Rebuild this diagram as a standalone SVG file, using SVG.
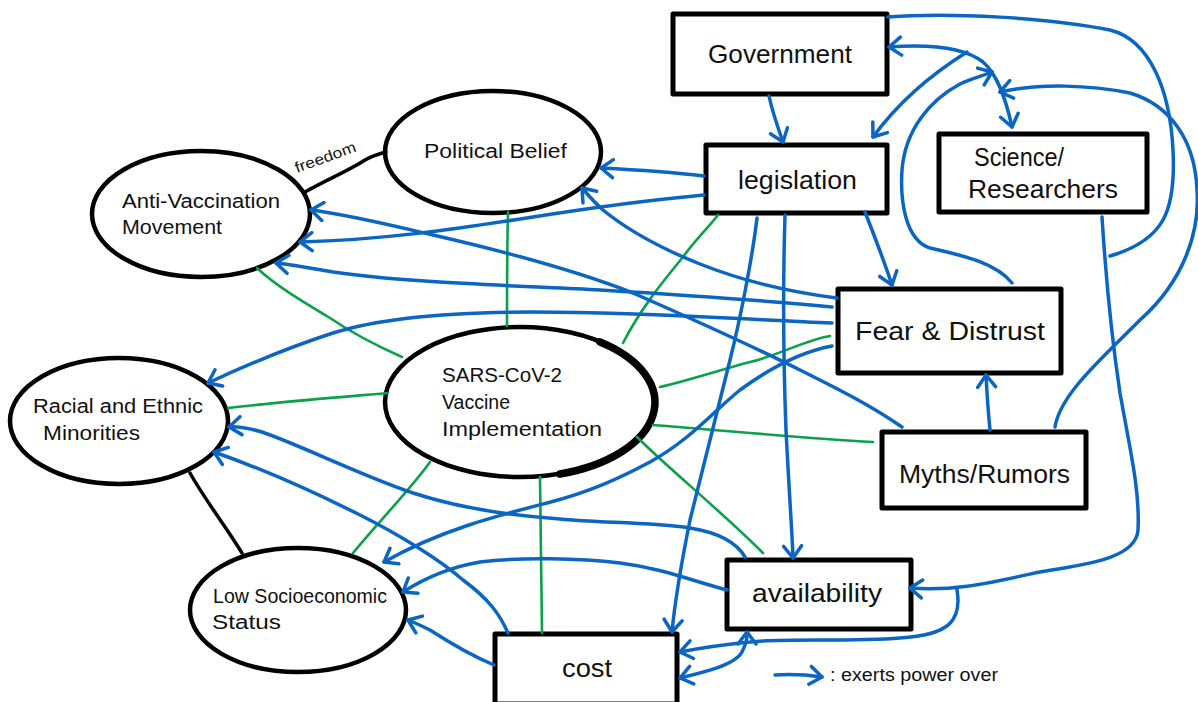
<svg xmlns="http://www.w3.org/2000/svg" width="1198" height="702" viewBox="0 0 1198 702">
<style>
.box{fill:#fff;stroke:#000;stroke-width:5;stroke-linejoin:round}
.ell{fill:#fff;stroke:#000;stroke-width:4.5}
.t{font-family:"Liberation Sans",Arial,sans-serif;fill:#111}
.tb{font-size:25px}
.te{font-size:20px}
.b{fill:none;stroke:#0a66c2;stroke-width:3.5;stroke-linecap:round;stroke-linejoin:round}
.a{marker-end:url(#arr)}
.aa{marker-start:url(#arr);marker-end:url(#arr)}
.g{fill:none;stroke:#0aa14b;stroke-width:2.6;stroke-linecap:round}
.k{fill:none;stroke:#000;stroke-width:3.5;stroke-linecap:round}
</style>
<defs>
<marker id="arr" viewBox="-2 -11 17 22" refX="12" refY="0" markerWidth="17" markerHeight="22" markerUnits="userSpaceOnUse" orient="auto-start-reverse">
<path d="M0,-9 L12,0 L0,9" fill="none" stroke="#0a66c2" stroke-width="3.5" stroke-linecap="round" stroke-linejoin="round"/>
</marker>
</defs>
<rect width="1198" height="702" fill="#fff"/>

<g id="government"><rect class="box" x="673" y="14" width="214" height="80"/><text class="t" x="708" y="63" font-size="26" textLength="144" lengthAdjust="spacingAndGlyphs">Government</text></g>
<g id="legislation"><rect class="box" x="706" y="145" width="181" height="68"/><text class="t" x="738" y="189" font-size="26" textLength="119" lengthAdjust="spacingAndGlyphs">legislation</text></g>
<g id="science"><rect class="box" x="939" y="134" width="208" height="78"/><text class="t tb" x="974" y="166" textLength="90" lengthAdjust="spacingAndGlyphs">Science/</text><text class="t tb" x="968" y="198" textLength="150" lengthAdjust="spacingAndGlyphs">Researchers</text></g>
<g id="fear"><rect class="box" x="838" y="289" width="223" height="84"/><text class="t" x="855" y="340" font-size="26" textLength="190" lengthAdjust="spacingAndGlyphs">Fear &amp; Distrust</text></g>
<g id="myths"><rect class="box" x="882" y="432" width="204" height="76"/><text class="t" x="899" y="483" font-size="26" textLength="171" lengthAdjust="spacingAndGlyphs">Myths/Rumors</text></g>
<g id="availability"><rect class="box" x="727" y="560" width="184" height="69"/><text class="t" x="752" y="602" font-size="26" textLength="130" lengthAdjust="spacingAndGlyphs">availability</text></g>
<g id="cost"><rect class="box" x="495" y="634" width="182" height="70"/><text class="t" x="562" y="677" font-size="26" textLength="50" lengthAdjust="spacingAndGlyphs">cost</text></g>

<g id="political-belief"><ellipse class="ell" cx="493" cy="152" rx="108" ry="61"/><text class="t te" x="424" y="158" textLength="143" lengthAdjust="spacingAndGlyphs">Political Belief</text></g>
<g id="anti-vax"><ellipse class="ell" cx="201" cy="214" rx="109" ry="63"/><text class="t te" x="122" y="208" textLength="158" lengthAdjust="spacingAndGlyphs">Anti-Vaccination</text><text class="t te" x="122" y="234" textLength="100" lengthAdjust="spacingAndGlyphs">Movement</text></g>
<g id="sars"><ellipse class="ell" cx="520" cy="402" rx="135" ry="75" stroke-width="5.5"/><path d="M600,342 A135,75 0 0 1 560,474" fill="none" stroke="#000" stroke-width="7.5" stroke-linecap="round"/><text class="t te" x="442" y="382" textLength="120" lengthAdjust="spacingAndGlyphs">SARS-CoV-2</text><text class="t te" x="442" y="409" textLength="68" lengthAdjust="spacingAndGlyphs">Vaccine</text><text class="t te" x="442" y="436" textLength="160" lengthAdjust="spacingAndGlyphs">Implementation</text></g>
<g id="racial"><ellipse class="ell" cx="119" cy="421" rx="109" ry="63"/><text class="t te" x="33" y="413" textLength="170" lengthAdjust="spacingAndGlyphs">Racial and Ethnic</text><text class="t te" x="43" y="440" textLength="97" lengthAdjust="spacingAndGlyphs">Minorities</text></g>
<g id="low-ses"><ellipse class="ell" cx="298" cy="610" rx="108" ry="62"/><text class="t te" x="213" y="603" textLength="174" lengthAdjust="spacingAndGlyphs">Low Socioeconomic</text><text class="t te" x="212" y="629" textLength="69" lengthAdjust="spacingAndGlyphs">Status</text></g>

<g id="connectors">
<path class="k" d="M305,192 C330,178 350,170 365,160 C372,156 378,154 386,152"/>
<text class="t" x="297" y="173" font-size="15" transform="rotate(-20 297 173)" textLength="64" lengthAdjust="spacingAndGlyphs">freedom</text>
<path class="k" d="M190,473 C205,500 225,525 242,553"/>

<path class="g" d="M508,212 C507,250 507,290 507,326"/>
<path class="g" d="M257,268 C275,285 300,300 330,318 C355,335 375,345 402,357"/>
<path class="g" d="M228,408 C280,402 330,398 388,393"/>
<path class="g" d="M623,343 C640,310 660,285 683,257 C695,240 708,228 718,215"/>
<path class="g" d="M660,387 C690,380 720,370 750,362 C780,355 805,340 830,336"/>
<path class="g" d="M653,425 C720,430 800,438 873,442"/>
<path class="g" d="M637,437 C670,470 720,510 763,553"/>
<path class="g" d="M540,477 C541,530 541,580 542,633"/>
<path class="g" d="M430,462 C410,490 380,520 353,553"/>

<path class="b a" d="M769,96 C772,110 778,128 783,142"/>
<path class="b aa" d="M889,47 C930,44 965,48 983,62 C998,75 1006,100 1012,127"/>
<path class="b a" d="M967,52 C935,72 900,100 873,137"/>
<path class="b a" d="M1012,283 C995,262 960,255 930,248 C905,240 900,200 902,170 C905,130 930,100 960,84 C970,79 982,76 992,72"/>
<path class="b a" d="M1055,427 C1060,395 1100,360 1140,320 C1185,280 1200,230 1197,190 C1195,140 1170,105 1130,93 C1090,85 1040,83 1000,92"/>
<path class="b" d="M888,17 C950,12 1050,18 1110,30 C1150,40 1170,90 1173,150 C1176,210 1165,240 1110,256"/>
<path class="b a" d="M1102,217 C1106,280 1112,340 1120,393 C1130,450 1140,490 1138,530 C1136,560 1080,565 1040,572 C1000,580 960,592 910,588"/>
<path class="b a" d="M957,590 C962,620 950,635 900,638 C850,642 780,638 750,642 C720,645 700,648 680,652"/>
<path class="b aa" d="M680,678 C705,672 735,665 742,652 C747,642 747,638 747,632"/>
<path class="b a" d="M704,176 C670,172 640,170 601,168"/>
<path class="b a" d="M704,195 C650,200 590,208 533,217 C450,230 380,240 300,242"/>
<path class="b a" d="M902,427 C870,405 840,390 800,370 C740,340 690,318 633,293 C580,272 520,255 433,235 C390,225 350,215 311,210"/>
<path class="b a" d="M832,307 C760,300 700,296 600,290 C500,285 400,282 333,272 C310,268 295,265 276,263"/>
<path class="b a" d="M837,298 C790,292 740,280 700,264 C660,248 625,228 603,210 C595,203 588,195 582,188"/>
<path class="b a" d="M832,323 C750,320 650,312 533,312 C450,312 380,318 333,333 C290,347 240,368 208,383"/>
<path class="b a" d="M832,346 C800,352 770,368 740,390 C715,410 690,440 650,462 C620,478 590,492 547,503 C500,515 440,530 384,562"/>
<path class="b a" d="M745,557 C735,540 715,532 690,528 C650,522 600,523 560,519 C500,515 450,505 413,493 C360,475 300,445 262,432 C248,428 238,426 229,427"/>
<path class="b a" d="M508,633 C500,615 490,600 463,580 C440,560 400,535 360,515 C310,490 260,468 214,452"/>
<path class="b a" d="M727,590 C690,580 660,568 620,563 C580,558 520,557 480,562 C450,567 425,578 403,592"/>
<path class="b a" d="M494,665 C470,655 450,643 430,630 C420,625 413,622 408,620"/>
<path class="b a" d="M757,218 C752,260 740,320 730,360 C715,420 700,480 690,520 C682,560 675,600 672,632"/>
<path class="b a" d="M785,215 C783,280 783,350 786,430 C789,490 792,530 793,558"/>
<path class="b a" d="M865,212 C872,230 882,255 892,285"/>
<path class="b a" d="M990,430 C988,410 987,395 986,375"/>
</g>

<g id="legend">
<path class="b a" d="M775,675 C790,674 808,675 822,677"/>
<text class="t" x="830" y="681" font-size="18" textLength="168" lengthAdjust="spacingAndGlyphs">: exerts power over</text>
</g>
</svg>
